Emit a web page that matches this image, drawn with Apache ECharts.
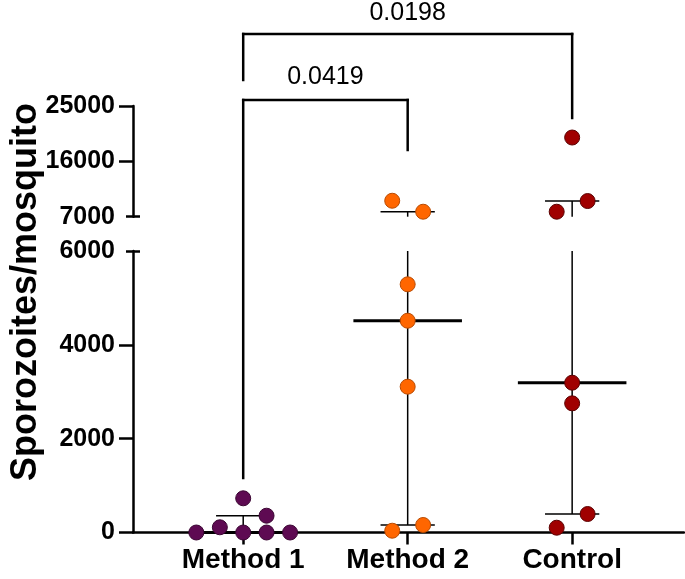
<!DOCTYPE html>
<html>
<head>
<meta charset="utf-8">
<script src="https://cdn.jsdelivr.net/npm/echarts@6/dist/echarts.min.js"></script>
<style>html,body{margin:0;padding:0;background:#fff}#c{width:685px;height:579px}</style>
</head>
<body>
<div id="c"></div>
<script>
const categories = ['Method 1', 'Method 2', 'Control'];
const method1Values = [0, 111, 0, 729, 0, 358, 0];
const method2Values = [9594, 7811, 5290, 4514, 3108, 160, 38];
const controlValues = [19875, 9546, 7811, 3193, 2753, 394, 102];
// horizontal jitter of each dot (category units)
const method1Jitter = [-0.285, -0.142, 0, 0, 0.142, 0.142, 0.285];
const method2Jitter = [-0.094, 0.094, 0, 0, 0, 0.094, -0.094];
const controlJitter = [0, 0.094, -0.094, 0, 0, 0.094, -0.094];
const upperTicks = [7000, 16000, 25000];
const lowerTicks = [0, 2000, 4000, 6000];
const pValues = ['0.0198', '0.0419'];
const yTitle = 'Sporozoites/mosquito';

const groups = [
  {values: method1Values, jitter: method1Jitter, color: '#5e0a52', border: '#3a0532'},
  {values: method2Values, jitter: method2Jitter, color: '#ff6600', border: '#b84a00'},
  {values: controlValues, jitter: controlJitter, color: '#a00000', border: '#5a0000'}
];

function quantile(arr, p) {
  const s = arr.slice().sort((a, b) => a - b);
  const pos = (s.length + 1) * p - 1;
  const lo = Math.floor(pos), hi = Math.ceil(pos);
  return s[lo] + (s[hi] - s[lo]) * (pos - lo);
}
const stats = groups.map((g, i) => [i + 1, quantile(g.values, 0.5), quantile(g.values, 0.25), quantile(g.values, 0.75)]);

const UP = {min: 7000, max: 25000};
const LO = {min: 0, max: 6000};
const XMIN = 0.33, XMAX = 3.68;
const FONT = '"Liberation Sans", Arial, Helvetica, sans-serif';

function errRender(rng) {
  return function (params, api) {
    const x = api.value(0), med = api.value(1), q1 = api.value(2), q3 = api.value(3);
    const cl = v => Math.max(rng.min, Math.min(rng.max, v));
    const inR = v => v >= rng.min && v <= rng.max;
    const ch = [];
    const ln = (a, b, w) => ch.push({type: 'line', shape: {x1: a[0], y1: a[1], x2: b[0], y2: b[1]}, style: {stroke: '#000', lineWidth: w}});
    if (q3 >= rng.min && q1 <= rng.max) ln(api.coord([x, cl(q1)]), api.coord([x, cl(q3)]), 1.5);
    if (inR(q1)) ln(api.coord([x - 0.165, q1]), api.coord([x + 0.165, q1]), 1.5);
    if (inR(q3)) ln(api.coord([x - 0.165, q3]), api.coord([x + 0.165, q3]), 1.5);
    if (inR(med)) ln(api.coord([x - 0.33, med]), api.coord([x + 0.33, med]), 3);
    return {type: 'group', children: ch};
  };
}

// significance brackets and p-values (x from the category scale)
function annRender(params, api) {
  const cx = i => api.coord([i, 0])[0];
  const x1 = cx(1), x2 = cx(2), x3 = cx(3);
  const ln = (ax, ay, bx, by) => ({type: 'line', shape: {x1: ax, y1: ay, x2: bx, y2: by}, style: {stroke: '#000', lineWidth: 2.5, lineCap: 'square'}});
  const tx = (x, y, text) => ({
    type: 'text', x: x, y: y,
    style: {text: text, font: '25px ' + FONT, fill: '#000', align: 'center', verticalAlign: 'middle'}
  });
  return {type: 'group', children: [
    ln(x1, 80, x1, 34), ln(x1, 34, x3, 34), ln(x3, 34, x3, 118),
    ln(x1, 478, x1, 100), ln(x1, 100, x2, 100), ln(x2, 100, x2, 150),
    tx((x1 + x3) / 2, 13, pValues[0]),
    tx((x1 + x2) / 2, 77, pValues[1])
  ]};
}

const series = [];
[0, 1].forEach(gi => {
  const rng = gi === 0 ? UP : LO;
  series.push({
    type: 'custom', xAxisIndex: gi, yAxisIndex: gi * 2, z: 1, clip: false,
    renderItem: errRender(rng), data: stats, silent: true
  });
  groups.forEach((g, idx) => {
    const pts = [];
    g.values.forEach((v, k) => {
      if ((gi === 0) === (v > LO.max)) pts.push([idx + 1 + g.jitter[k], v]);
    });
    series.push({
      type: 'scatter', xAxisIndex: gi, yAxisIndex: gi * 2, z: 3, clip: false,
      symbol: 'circle', symbolSize: 15, data: pts,
      itemStyle: {color: g.color, borderColor: g.border, borderWidth: 1, opacity: 1}
    });
  });
});
series.push({
  type: 'custom', xAxisIndex: 1, yAxisIndex: 2, z: 10, clip: false, silent: true,
  renderItem: annRender, data: [[1, 0]]
});

const axLine = () => ({show: true, onZero: false, lineStyle: {color: '#000', width: 2.5}});
const lblStyle = () => ({color: '#000', fontFamily: FONT, fontWeight: 'bold', fontSize: 25, formatter: v => String(v)});

const option = {
  animation: false,
  grid: [
    {left: 133, right: 1, top: 106, height: 110.7},
    {left: 133, right: 1, top: 251, height: 281.5},
    {left: 133, right: 1, top: 90, height: 404, show: false}
  ],
  xAxis: [
    {gridIndex: 0, type: 'value', min: XMIN, max: XMAX, show: false},
    {gridIndex: 1, type: 'value', min: XMIN, max: XMAX, position: 'bottom',
      axisLine: axLine(),
      axisTick: {show: true, length: 12, customValues: [1, 2, 3], lineStyle: {color: '#000', width: 2.5}},
      axisLabel: {customValues: [1, 2, 3], formatter: v => categories[Math.round(v) - 1], color: '#000',
        fontFamily: FONT, fontWeight: 'bold', fontSize: 28, margin: 14},
      splitLine: {show: false}
    },
    {gridIndex: 2, type: 'value', min: 0, max: 1, show: false}
  ],
  yAxis: [
    {gridIndex: 0, type: 'value', min: UP.min, max: UP.max, position: 'left',
      axisLine: axLine(),
      axisTick: {show: true, length: 14, customValues: [16000, 25000], lineStyle: {color: '#000', width: 2.5}},
      axisLabel: Object.assign({customValues: upperTicks, margin: 18}, lblStyle()),
      splitLine: {show: false}
    },
    {gridIndex: 0, type: 'value', min: UP.min, max: UP.max, position: 'left', offset: -7,
      axisLine: {show: false},
      axisTick: {show: true, length: 14, customValues: [UP.min], lineStyle: {color: '#000', width: 2.5}},
      axisLabel: {show: false}, splitLine: {show: false}
    },
    {gridIndex: 1, type: 'value', min: LO.min, max: LO.max, interval: 2000, position: 'left',
      axisLine: axLine(),
      axisTick: {show: true, length: 14, customValues: [0, 2000, 4000], lineStyle: {color: '#000', width: 2.5}},
      axisLabel: Object.assign({customValues: lowerTicks, margin: 18}, lblStyle()),
      splitLine: {show: false}
    },
    {gridIndex: 1, type: 'value', min: LO.min, max: LO.max, position: 'left', offset: -7,
      axisLine: {show: false},
      axisTick: {show: true, length: 14, customValues: [LO.max], lineStyle: {color: '#000', width: 2.5}},
      axisLabel: {show: false}, splitLine: {show: false}
    },
    {gridIndex: 2, type: 'value', min: 0, max: 1, position: 'left',
      axisLine: {show: false}, axisTick: {show: false}, axisLabel: {show: false}, splitLine: {show: false},
      name: yTitle, nameLocation: 'middle', nameGap: 98,
      nameTextStyle: {color: '#000', fontFamily: FONT, fontWeight: 'bold', fontSize: 36}
    }
  ],
  series: series
};

const chart = echarts.init(document.getElementById('c'), null, {renderer: 'canvas'});
chart.setOption(option);
</script>
</body>
</html>
